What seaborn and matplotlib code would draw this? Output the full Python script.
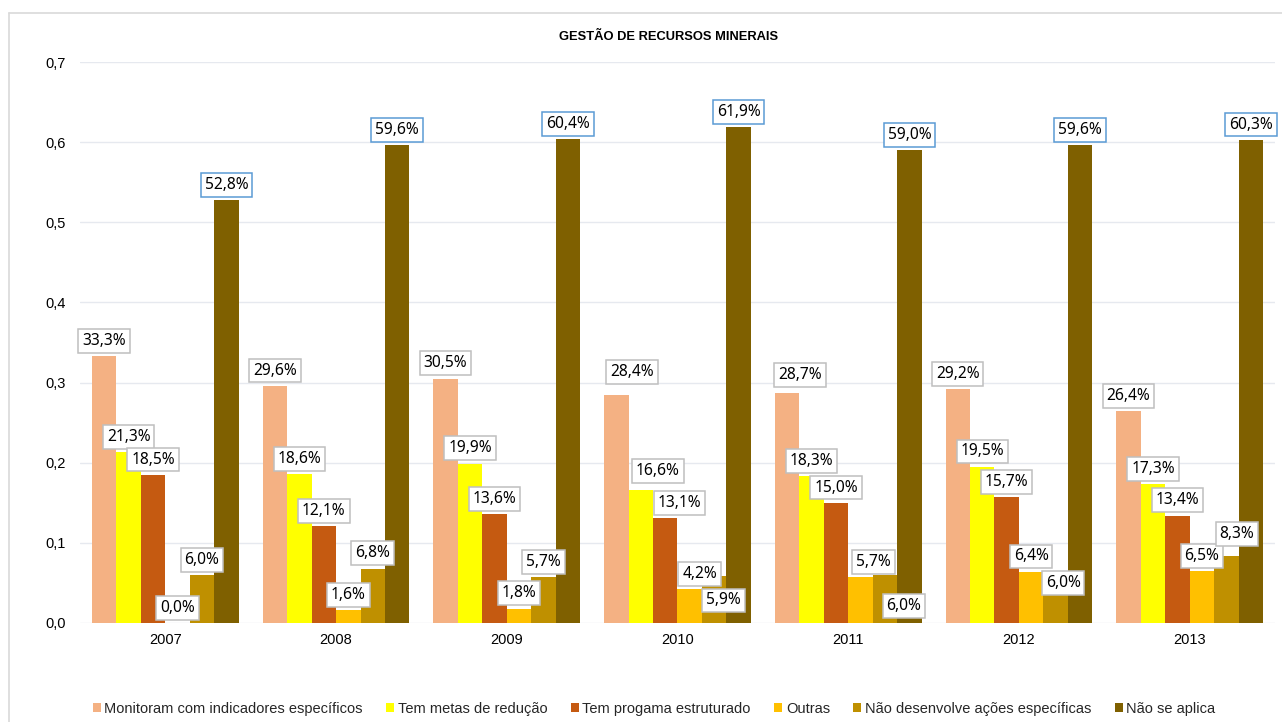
import matplotlib
matplotlib.use("Agg")
import matplotlib.pyplot as plt
from matplotlib.patches import Patch
from matplotlib.lines import Line2D
import seaborn as sns
import pandas as pd

# ---- data -------------------------------------------------------------
years = ["2007", "2008", "2009", "2010", "2011", "2012", "2013"]
series = [
    "Monitoram com indicadores específicos",
    "Tem metas de redução",
    "Tem progama estruturado",
    "Outras",
    "Não desenvolve ações específicas",
    "Não se aplica",
]
monitoram = [0.333, 0.296, 0.305, 0.284, 0.287, 0.292, 0.264]
metas = [0.213, 0.186, 0.199, 0.166, 0.183, 0.195, 0.173]
programa = [0.185, 0.121, 0.136, 0.131, 0.150, 0.157, 0.134]
outras = [0.000, 0.016, 0.018, 0.042, 0.057, 0.064, 0.065]
nao_desenvolve = [0.060, 0.068, 0.057, 0.059, 0.060, 0.060, 0.083]
nao_aplica = [0.528, 0.596, 0.604, 0.619, 0.590, 0.596, 0.603]
y_ticks = [0.0, 0.1, 0.2, 0.3, 0.4, 0.5, 0.6, 0.7]
y_tick_labels = ["0,0", "0,1", "0,2", "0,3", "0,4", "0,5", "0,6", "0,7"]
title = "GESTÃO DE RECURSOS MINERAIS"

colors = ["#F4B183", "#FFFF00", "#C55A11", "#FFC000", "#BF9000", "#7F6000"]

values = [monitoram, metas, programa, outras, nao_desenvolve, nao_aplica]
rows = []
for s, vals in zip(series, values):
    for y, v in zip(years, vals):
        rows.append({"ano": y, "serie": s, "valor": v})
df = pd.DataFrame(rows)

# ---- figure -----------------------------------------------------------
W, H, DPI = 1282, 722, 100
sns.set_theme(style="white")
plt.rcParams["font.family"] = ["Liberation Sans", "DejaVu Sans"]

fig = plt.figure(figsize=(W / DPI, H / DPI), dpi=DPI)
fig.patch.set_facecolor("white")

# chart frame (top and left edges)
frame_col = "#D9D9D9"
fig.add_artist(Line2D([9 / W, 1.0], [1 - 13 / H, 1 - 13 / H],
                      transform=fig.transFigure, color=frame_col, lw=1.2))
fig.add_artist(Line2D([9 / W, 9 / W], [0.0, 1 - 13 / H],
                      transform=fig.transFigure, color=frame_col, lw=1.2))

ax = fig.add_axes([80 / W, 1 - 623 / H, 1195 / W, 561 / H])
sns.barplot(data=df, x="ano", y="valor", hue="serie", order=years,
            hue_order=series, palette=colors, width=0.86, saturation=1,
            linewidth=0, ax=ax, legend=False, errorbar=None)

ax.set_xlim(-0.5, len(years) - 0.5)
ax.set_ylim(0, 0.7)
ax.set_yticks(y_ticks)
ax.set_yticklabels(y_tick_labels)
ax.set_xlabel("")
ax.set_ylabel("")
for sp in ax.spines.values():
    sp.set_visible(False)
ax.grid(axis="y", color="#E6E9EF", lw=1.0)
ax.set_axisbelow(True)
ax.tick_params(axis="y", length=0, pad=10, labelsize=10.5, colors="#000000")
ax.tick_params(axis="x", length=0, pad=7, labelsize=10.5, colors="#000000")

# label nudges in pixels (dx right, dy up) for crowded spots
nudges = {
    (3, 0): (15.5, 8), (3, 1): (17, 4), (3, 2): (14, 0), (3, 3): (10, 0),
    (3, 4): (9.5, -40), (4, 0): (13, 3), (4, 3): (13, 0), (4, 4): (19, -46.5),
    (5, 4): (7.5, -23), (6, 4): (10.5, 7.5),
}
px2pt = 72 / DPI
for si, cont in enumerate(ax.containers):
    edge = "#5B9BD5" if si == len(series) - 1 else "#BFBFBF"
    for yi, bar in enumerate(cont.patches):
        v = values[si][yi]
        xc = bar.get_x() + bar.get_width() / 2
        dx, dy = nudges.get((yi, si), (0, 0))
        txt = f"{v * 100:.1f}%".replace(".", ",")
        ax.annotate(txt, (xc, bar.get_height()),
                    xytext=(dx * px2pt, 5.2 + dy * px2pt),
                    textcoords="offset points", ha="center", va="bottom",
                    fontsize=11.2, family=["Noto Sans", "DejaVu Sans"],
                    color="#000000", annotation_clip=False, zorder=5,
                    bbox=dict(boxstyle="square,pad=0.25", fc="white",
                              ec=edge, lw=1.1))

fig.text(669 / W, 1 - 37 / H, title, ha="center", va="center",
         fontsize=9.3, fontweight="bold", color="#000000")

handles = [Patch(facecolor=c, edgecolor="none") for c in colors]
fig.legend(handles, series, loc="center", bbox_to_anchor=(654 / W, 1 - 709 / H),
           ncol=6, frameon=False, fontsize=10.5, handlelength=0.55,
           handleheight=0.55, handletextpad=0.25, columnspacing=1.6,
           borderaxespad=0)

fig.savefig("out.png", dpi=DPI)
